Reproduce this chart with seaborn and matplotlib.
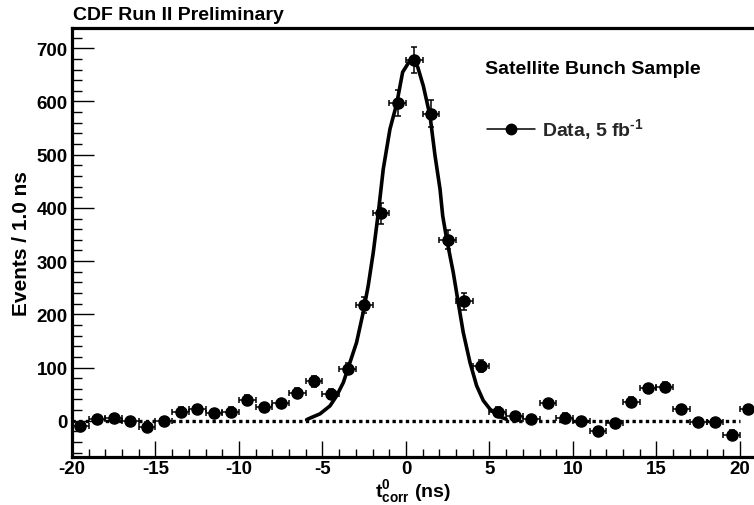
import numpy as np
import pandas as pd
import matplotlib
matplotlib.use("Agg")
import matplotlib.pyplot as plt
from matplotlib.ticker import MultipleLocator
from matplotlib.lines import Line2D
import seaborn as sns

# ---- data ----
bin_centers = [-19.5, -18.5, -17.5, -16.5, -15.5, -14.5, -13.5, -12.5, -11.5, -10.5,
               -9.5, -8.5, -7.5, -6.5, -5.5, -4.5, -3.5, -2.5, -1.5, -0.5,
               0.5, 1.5, 2.5, 3.5, 4.5, 5.5, 6.5, 7.5, 8.5, 9.5,
               10.5, 11.5, 12.5, 13.5, 14.5, 15.5, 16.5, 17.5, 18.5, 19.5, 20.5]
events = [-10, 3, 5, -1, -11, -1, 17, 22, 14, 17,
          39, 25, 33, 52, 74, 50, 98, 217, 390, 597,
          678, 577, 340, 225, 103, 17, 9, 3, 33, 6,
          0, -19, -4, 36, 61, 63, 22, -2, -2, -26, 22]
event_err = [8, 8, 8, 8, 8, 8, 8, 8, 8, 8,
             9, 8, 8, 9, 10, 9, 11, 15, 20, 24,
             25, 25, 18, 16, 11, 8, 8, 8, 8, 8,
             8, 8, 8, 8, 9, 9, 8, 8, 8, 8, 8]
bin_half_width = 0.5

fit_t = [-5.95, -5.75, -5.15, -4.55, -4.15, -3.75, -3.35, -2.96, -2.56, -2.26,
         -1.96, -1.66, -1.36, -0.96, -0.56, -0.2, 0.3, 0.7, 1.04, 1.44,
         1.74, 2.04, 2.2, 2.44, 2.83, 3.13, 3.43, 3.83, 4.23, 4.63,
         5.03, 5.53, 6.0]
fit_val = [2, 5, 13, 28, 47, 72, 110, 147, 204, 254,
           316, 390, 473, 548, 595, 655, 680, 665, 629, 573,
           498, 435, 385, 341, 279, 222, 166, 110, 66, 38,
           22, 9, 3]

zero_line_range = (-20, 20)
x_range = (-20, 21)
y_range = (-68, 738)

# ---- styling ----
sns.set_theme(style="white")
plt.rcParams['font.family'] = ['Liberation Sans', 'DejaVu Sans']
plt.rcParams['mathtext.fontset'] = 'custom'
plt.rcParams['mathtext.rm'] = 'Liberation Sans:bold'
plt.rcParams['mathtext.bf'] = 'Liberation Sans:bold'
plt.rcParams['mathtext.it'] = 'Liberation Sans:bold'
plt.rcParams['axes.unicode_minus'] = False

fig = plt.figure(figsize=(7.54, 5.06), dpi=100)
ax = fig.add_axes([0.0955, 0.0949, 0.908, 0.8478])

# zero line
ax.hlines(0, zero_line_range[0], zero_line_range[1], colors='black',
          linestyles=(0, (1, 1)), linewidth=2.4, zorder=1)

# fit curve
fit_df = pd.DataFrame({"t": fit_t, "v": fit_val})
sns.lineplot(data=fit_df, x="t", y="v", ax=ax, color='black', linewidth=2.6,
             sort=False, estimator=None, zorder=2)

# data with error bars
ax.errorbar(bin_centers, events, yerr=event_err, xerr=bin_half_width,
            fmt='o', color='black', markersize=8, elinewidth=1.1,
            capsize=2.5, capthick=1.1, zorder=3)

ax.set_xlim(*x_range)
ax.set_ylim(*y_range)

ax.xaxis.set_major_locator(MultipleLocator(5))
ax.xaxis.set_minor_locator(MultipleLocator(1))
ax.yaxis.set_major_locator(MultipleLocator(100))
ax.yaxis.set_minor_locator(MultipleLocator(20))

ax.tick_params(axis='both', which='both', direction='in', top=False, right=False,
               left=True, bottom=True, color='black', labelsize=13.5, labelcolor='black')
ax.tick_params(axis='y', which='major', length=16, width=1.0, pad=3)
ax.tick_params(axis='y', which='minor', length=7.5, width=1.0)
ax.tick_params(axis='x', which='major', length=11.5, width=1.0, pad=2)
ax.tick_params(axis='x', which='minor', length=5.5, width=1.0)
for lab in ax.get_xticklabels() + ax.get_yticklabels():
    lab.set_fontweight('bold')

for side in ['left', 'top', 'bottom', 'right']:
    ax.spines[side].set_color('black')
    ax.spines[side].set_linewidth(2.3)

ax.set_xlabel(r'$\mathbf{t^{0}_{corr}}$ (ns)', fontsize=14, fontweight='bold',
              color='black')
ax.xaxis.label.set_va('baseline')
ax.xaxis.set_label_coords(0.498, -0.092)
ax.set_ylabel('Events / 1.0 ns', fontsize=15, fontweight='bold', color='black',
              labelpad=4)

fig.text(0.0965, 1 - 15.5 / 506, 'CDF Run II Preliminary', fontsize=14, fontweight='bold',
         ha='left', va='center', color='black')
fig.text(485 / 754, 1 - 70 / 506, 'Satellite Bunch Sample', fontsize=14,
         fontweight='bold', ha='left', va='center', color='black')

handle = Line2D([], [], color='black', marker='o', markersize=7.5, linewidth=1.1)
ax.legend(handles=[handle], labels=[r'Data, 5 fb$^{\text{-1}}$'],
          loc='center left', bbox_to_anchor=(487 / 754, 1 - 130 / 506),
          bbox_transform=fig.transFigure, frameon=False, borderpad=0,
          borderaxespad=0, handlelength=2.45, handletextpad=0.4,
          prop={'weight': 'bold', 'size': 14})

fig.savefig('out.png', dpi=100)
